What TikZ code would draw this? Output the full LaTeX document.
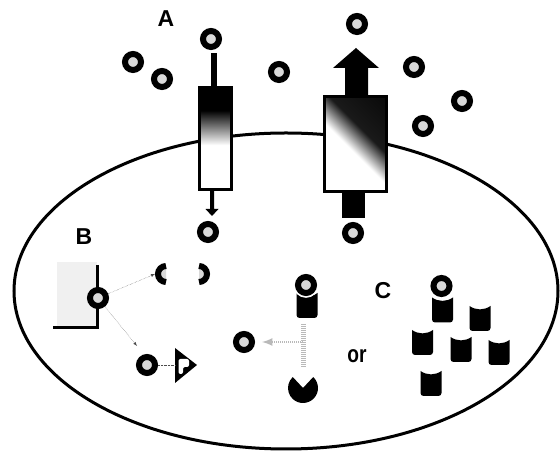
\documentclass[tikz,border=0pt]{standalone}
\usepackage{fontspec}
\setmainfont{Liberation Sans}
\usetikzlibrary{arrows}

\pgfdeclareverticalshading{chanfade}{100bp}{color(0bp)=(white); color(47bp)=(white); color(64bp)=(black); color(100bp)=(black)}
\pgfdeclareverticalshading{porefade}{100bp}{color(0bp)=(white); color(46bp)=(white); color(60bp)=(black!90); color(100bp)=(black)}

\tikzset{
  particle/.style = {circle, draw=black, line width=6pt, fill=gray!30, minimum size=16pt, inner sep=0pt},
  capped/.style = {particle, preaction={draw=white, line width=9.5pt}},
  letter/.style = {font=\fontsize{23}{23}\selectfont\bfseries, inner sep=0pt},
  trail/.style = {densely dotted, gray!60!black, thin},
  stipple/.style = {gray!55, dash pattern=on 1.2pt off 0.8pt},
  cup/.pic = {
    \fill (-10.5,12.5) -- (-10.5,-9.5) to[out=-90,in=180] (-7.5,-12.5) -- (7.5,-12.5)
      to[out=0,in=-90] (10.5,-9.5) -- (10.5,12.5) .. controls (4,8) and (-4,8) .. cycle;
  }
}

\begin{document}
\begin{tikzpicture}[x=1pt, y=1pt]
  \useasboundingbox (0,0) rectangle (560,452);

  % cell
  \draw [line width=3pt] (286,161) ellipse [x radius=272, y radius=158];

  % outside
  \foreach \x/\y [count=\i] in {211/413, 133/390, 162/373, 279/380, 357/428, 414/385, 462/351, 423/326} {
    \node [particle] (out\i) at (\x, \y) {};
  }
  \node [letter] (labA) at (166,433.5) {A};

  % channel, slow
  \shadedraw [shading=chanfade, line width=3pt] (199,262) rectangle (231,364);
  \fill (211,364) rectangle (217,399);
  \fill (210,262) -- (210,243) -- (205.5,243) -- (212,236) -- (218.5,243) -- (214,243) -- (214,262) -- cycle;

  % pump, fast
  \shadedraw [shading=porefade, shading angle=-45, line width=3pt] (324,260) rectangle (386,355);
  \fill (342,234) rectangle (365,260);
  \fill (345,355) -- (345,384) -- (333,384) -- (356,404) -- (379,384) -- (368,384) -- (368,355) -- cycle;

  \node [particle] (inL) at (208,220) {};
  \node [particle] (inR) at (353,219) {};

  % B
  \node [letter] (labB) at (84,215) {B};
  \fill [gray!12] (57,124) rectangle (97,190);
  \draw [line width=3pt] (97,187) -- (97,124) -- (53,124);
  \node [particle] (recB) at (98,154) {};

  \filldraw [fill=gray!30, line width=6pt] (166,186) arc [start angle=90, end angle=270, radius=8];
  \filldraw [fill=gray!30, line width=6pt] (199,170) arc [start angle=-90, end angle=90, radius=8];
  \coordinate (hitL) at (155,178);
  \draw [trail, -latex] (recB) -- (hitL);

  \coordinate (hitS) at (137,106);
  \draw [trail, -latex] (recB) -- (hitS);
  \node [particle] (sigB) at (147,87) {};

  \coordinate (tri) at (175,87);
  \fill (175,104) -- (197,87) -- (175,69) -- cycle;
  \fill [white, rounded corners=2pt] (178.5,78) -- (178.5,93) -- (189,93) -- (189,85) -- (183,85) -- (183,78) -- cycle;
  \draw [trail] (sigB) -- (tri);

  % C
  \node [letter] (labC) at (383,161) {C};
  \pic at (307,146.5) {cup};
  \node [capped] (cupP) at (306,167) {};

  \coordinate (barTop) at (303,128);
  \coordinate (barEnd) at (303,85);
  \coordinate (barMid) at (303,110);
  \coordinate (hitC) at (262,110);
  \draw [stipple, line width=5pt] (barTop) -- (barEnd);
  \draw [stipple, line width=2.5pt, -latex] (barMid) -- (hitC);
  \node [particle] (sigC) at (244,110) {};

  \coordinate (pac) at (303,64);
  \fill (pac) -- ++(47:15) arc [start angle=47, end angle=-227, radius=15] -- cycle;

  \node [letter, font=\fontsize{24}{24}\selectfont\bfseries, xscale=0.8] (orword) at (357,96) {or};

  \foreach \x/\y in {442.5/142, 480/133.5, 422.5/109.5, 461/102.5, 499/99.5, 431/68.5} {
    \pic at (\x, \y) {cup};
  }
  \node [capped] (cupQ) at (441.5,166) {};
\end{tikzpicture}
\end{document}
